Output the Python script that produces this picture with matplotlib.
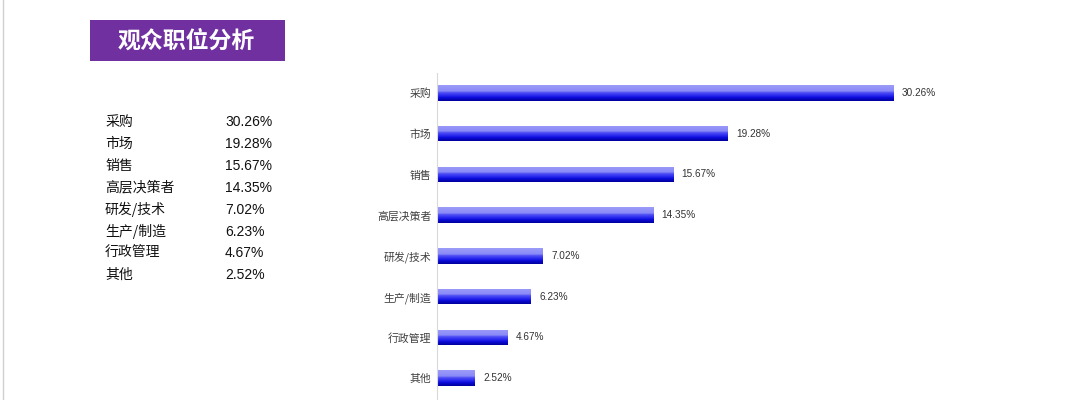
import matplotlib
matplotlib.use("Agg")
import matplotlib.pyplot as plt
import numpy as np
from matplotlib.colors import LinearSegmentedColormap
from matplotlib.patches import Rectangle

plt.rcParams['font.family'] = ['Noto Sans CJK SC', 'DejaVu Sans']

# data
categories = ["采购", "市场", "销售", "高层决策者", "研发/技术", "生产/制造", "行政管理", "其他"]
shares = [30.26, 19.28, 15.67, 14.35, 7.02, 6.23, 4.67, 2.52]
share_labels = ["30.26%", "19.28%", "15.67%", "14.35%", "7.02%", "6.23%", "4.67%", "2.52%"]
title = "观众职位分析"

W, H = 1080, 400
fig = plt.figure(figsize=(W / 100, H / 100), dpi=100)
fig.patch.set_facecolor("white")

# title box
fig.patches.append(Rectangle((90 / W, 1 - 61 / H), 195 / W, 41 / H,
                             transform=fig.transFigure, facecolor="#7030a0",
                             edgecolor="none"))
fig.text(186 / W, 1 - 41 / H, title, color="white", fontsize=16.5,
         fontweight="heavy", ha="center", va="center")

# left table
for i, (c, s) in enumerate(zip(categories, share_labels)):
    y = 1 - (122 + i * 21.9) / H
    fig.text(105 / W, y, c, fontsize=10, color="#111111", va="center")
    fig.text(225 / W, y, s, fontsize=10, color="#111111", va="center",
             family=["Liberation Sans", "DejaVu Sans"])

# bar chart
px_per_pct = 15.07
ax_left, ax_right = 437, 1010
top, bottom = 72.6, 398.6
ax = fig.add_axes([ax_left / W, 1 - bottom / H, (ax_right - ax_left) / W, (bottom - top) / H])
ax.patch.set_alpha(0)

cmap = LinearSegmentedColormap.from_list(
    "bar", [(0.0, "#00009c"), (0.2, "#0a0ad8"), (0.35, "#2a2af0"),
            (0.55, "#5656f5"), (0.62, "#8a8af8"), (1.0, "#9c9cf8")])
grad = np.linspace(0, 1, 64).reshape(-1, 1)

y_pos = np.arange(len(categories))
bar_h = 0.38
bars = ax.barh(y_pos, shares, height=bar_h, color="none", edgecolor="none")
for b in bars:
    x0, y0 = b.get_x(), b.get_y()
    w, h = b.get_width(), b.get_height()
    im = ax.imshow(grad, cmap=cmap, aspect="auto", origin="lower",
                   extent=[x0, x0 + w, y0 + h, y0], zorder=2)
    im.set_clip_path(b)

ax.set_xlim(0, (ax_right - ax_left) / px_per_pct)
ax.set_ylim(len(categories) - 0.5, -0.5)

for y, v, lab in zip(y_pos, shares, share_labels):
    ax.annotate(lab, (v, y), xytext=(6, 0), textcoords="offset points",
                fontsize=7.2, color="#333333", va="center", ha="left",
                family=["Liberation Sans", "DejaVu Sans"])

ax.set_yticks(y_pos)
ax.set_yticklabels(categories, fontsize=7.8, color="#404040")
ax.tick_params(axis="y", length=0, pad=4)
ax.set_xticks([])
for sp in ["top", "right", "bottom"]:
    ax.spines[sp].set_visible(False)
ax.spines["left"].set_color("#d9d9d9")
ax.spines["left"].set_linewidth(0.8)

# thin frame line at far left
fig.add_artist(plt.Line2D([2.5 / W, 2.5 / W], [0, 1], transform=fig.transFigure,
                          color="#d0d0d0", linewidth=1))

fig.savefig("out.png", dpi=100, facecolor="white")
